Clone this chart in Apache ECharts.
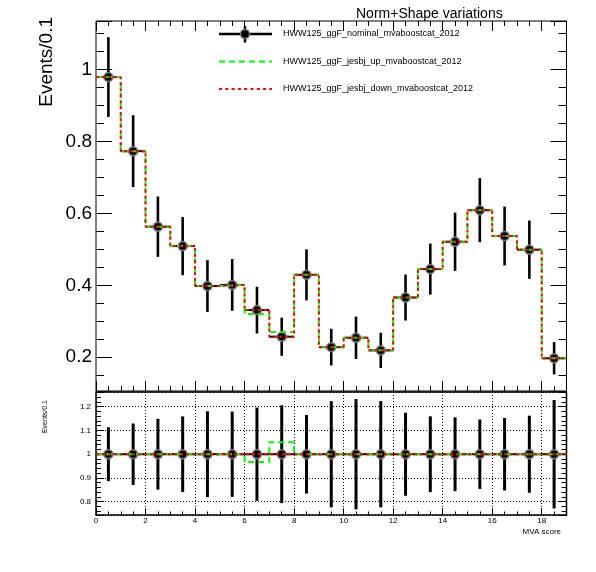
<!DOCTYPE html>
<html>
<head>
    <meta charset="utf-8">
    <title>Norm+Shape variations</title>
    <script src="https://cdn.jsdelivr.net/npm/echarts@6/dist/echarts.min.js"></script>
    <style>
        body { margin: 0; background: #fff; }
    </style>
</head>
<body>
    <div id="main" style="width:596px; height:572px"></div>
    <script type="text/javascript">
        // bins of width 1 on [0,19]
        var binCenters = [0.5, 1.5, 2.5, 3.5, 4.5, 5.5, 6.5, 7.5, 8.5, 9.5, 10.5, 11.5, 12.5, 13.5, 14.5, 15.5, 16.5, 17.5, 18.5];
        var nominal = [0.979, 0.773, 0.563, 0.509, 0.398, 0.401, 0.331, 0.257, 0.429, 0.228, 0.254, 0.219, 0.366, 0.445, 0.521, 0.609, 0.537, 0.499, 0.197];
        var nominalErr = [0.111, 0.100, 0.084, 0.081, 0.072, 0.072, 0.065, 0.053, 0.071, 0.051, 0.059, 0.049, 0.064, 0.071, 0.081, 0.089, 0.082, 0.081, 0.045];
        var jesUp = [0.979, 0.773, 0.563, 0.509, 0.398, 0.401, 0.320, 0.270, 0.429, 0.228, 0.254, 0.219, 0.366, 0.445, 0.521, 0.609, 0.537, 0.499, 0.197];
        var jesDown = [0.979, 0.773, 0.563, 0.509, 0.398, 0.401, 0.331, 0.257, 0.429, 0.228, 0.254, 0.219, 0.366, 0.445, 0.521, 0.609, 0.537, 0.499, 0.197];
        var legendNames = ['HWW125_ggF_nominal_mvaboostcat_2012', 'HWW125_ggF_jesbj_up_mvaboostcat_2012', 'HWW125_ggF_jesbj_down_mvaboostcat_2012'];

        var FONT = "'Liberation Sans', Arial, sans-serif";
        var myChart = echarts.init(document.getElementById('main'));

        // histogram outline: one point per lower bin edge plus the last upper edge
        function stepData(vals) {
            var d = [];
            for (var i = 0; i < vals.length; i++) d.push([binCenters[i] - 0.5, vals[i]]);
            d.push([binCenters[vals.length - 1] + 0.5, vals[vals.length - 1]]);
            return d;
        }
        function ratio(vals) {
            return vals.map(function (v, i) { return v / nominal[i]; });
        }

        var mainPts = binCenters.map(function (x, i) { return [x, nominal[i], nominalErr[i]]; });
        var ratioPts = binCenters.map(function (x, i) { return [x, 1, nominalErr[i] / nominal[i]]; });

        function errRender(width) {
            return function (params, api) {
                var x = api.value(0), y = api.value(1), e = api.value(2);
                var t = api.coord([x, y + e]), b = api.coord([x, y - e]);
                var l = api.coord([x - 0.5, y]), r = api.coord([x + 0.5, y]);
                return {
                    type: 'group',
                    children: [
                        { type: 'line', shape: { x1: t[0], y1: t[1], x2: b[0], y2: b[1] }, style: { stroke: '#000', lineWidth: width } },
                        { type: 'line', shape: { x1: l[0], y1: l[1], x2: r[0], y2: r[1] }, style: { stroke: '#000', lineWidth: 2 } }
                    ]
                };
            };
        }

        function isMult(v, step) {
            return Math.abs(v / step - Math.round(v / step)) < 1e-6;
        }

        function xAx(grid, pos, interval, len, extra) {
            var a = {
                type: 'value', gridIndex: grid, position: pos, min: 0, max: 19, interval: interval,
                axisLine: { show: false, onZero: false },
                axisTick: { show: true, inside: true, length: len, lineStyle: { color: '#000', width: 1 } },
                axisLabel: { show: false },
                splitLine: { show: false }
            };
            return Object.assign(a, extra || {});
        }
        function yAx(grid, pos, min, max, split, len, extra) {
            var a = {
                type: 'value', gridIndex: grid, position: pos, min: min, max: max, splitNumber: split,
                axisLine: { show: false, onZero: false },
                axisTick: { show: true, inside: true, length: len, lineStyle: { color: '#000', width: 1 } },
                axisLabel: { show: false },
                splitLine: { show: false }
            };
            return Object.assign(a, extra || {});
        }

        var MAIN_MIN = 0.106, MAIN_MAX = 1.135;
        var RAT_MIN = 0.744, RAT_MAX = 1.262;

        var option = {
            animation: false,
            backgroundColor: '#fff',
            textStyle: { fontFamily: FONT },
            title: {
                text: 'Norm+Shape variations',
                left: 351, top: 2,
                textStyle: { fontFamily: FONT, fontSize: 14, fontWeight: 'normal', color: '#000' }
            },
            grid: [
                { left: 96, right: 29.5, top: 21, height: 370, show: true, borderColor: '#000', borderWidth: 1, backgroundColor: 'transparent' },
                { left: 96, right: 29.5, top: 392, height: 123, show: true, borderColor: '#000', borderWidth: 1.5, backgroundColor: 'transparent' }
            ],
            xAxis: [
                xAx(0, 'bottom', 2, 10),
                xAx(0, 'bottom', 0.5, 5),
                xAx(0, 'top', 2, 10),
                xAx(0, 'top', 0.5, 5),
                xAx(1, 'bottom', 2, 7, {
                    axisLabel: {
                        show: true, fontSize: 8, color: '#000', margin: 2, fontFamily: FONT,
                        formatter: function (v) { return isMult(v, 2) ? String(v) : ''; }
                    },
                    splitLine: { show: true, lineStyle: { color: '#000', type: [1, 2], width: 1 } }
                }),
                xAx(1, 'bottom', 0.5, 3.5)
            ],
            yAxis: [
                yAx(0, 'left', MAIN_MIN, MAIN_MAX, 5, 16, {
                    axisLabel: {
                        show: true, fontSize: 19, color: '#000', margin: 4, fontFamily: FONT,
                        formatter: function (v) {
                            if (!isMult(v, 0.2)) return '';
                            return Math.abs(v - 1) < 1e-6 ? '1' : v.toFixed(1);
                        }
                    }
                }),
                yAx(0, 'left', MAIN_MIN, MAIN_MAX, 20, 8),
                yAx(0, 'right', MAIN_MIN, MAIN_MAX, 5, 16),
                yAx(0, 'right', MAIN_MIN, MAIN_MAX, 20, 8),
                yAx(1, 'left', RAT_MIN, RAT_MAX, 5, 8, {
                    axisLabel: {
                        show: true, fontSize: 8, color: '#000', margin: 5, fontFamily: FONT,
                        formatter: function (v) {
                            if (!isMult(v, 0.1)) return '';
                            return Math.abs(v - 1) < 1e-6 ? '1' : v.toFixed(1);
                        }
                    },
                    splitLine: { show: true, lineStyle: { color: '#000', type: [1, 2], width: 1 } }
                }),
                yAx(1, 'left', RAT_MIN, RAT_MAX, 25, 5),
                yAx(1, 'right', RAT_MIN, RAT_MAX, 5, 8),
                yAx(1, 'right', RAT_MIN, RAT_MAX, 25, 5)
            ],
            series: [
                // main pad
                {
                    name: 'nominal err', type: 'custom', xAxisIndex: 0, yAxisIndex: 0, z: 2,
                    renderItem: errRender(2.6), data: mainPts, silent: true
                },
                {
                    name: legendNames[0], type: 'scatter', xAxisIndex: 0, yAxisIndex: 0, z: 3,
                    symbol: 'circle', symbolSize: 9,
                    itemStyle: { color: '#000', borderColor: '#777', borderWidth: 1.5, opacity: 1 },
                    data: binCenters.map(function (x, i) { return [x, nominal[i]]; })
                },
                {
                    name: legendNames[1], type: 'line', xAxisIndex: 0, yAxisIndex: 0, z: 4, step: 'end',
                    showSymbol: false, symbol: 'none',
                    lineStyle: { color: '#00ff00', width: 2, type: [6, 4] },
                    data: stepData(jesUp)
                },
                {
                    name: legendNames[2], type: 'line', xAxisIndex: 0, yAxisIndex: 0, z: 5, step: 'end',
                    showSymbol: false, symbol: 'none',
                    lineStyle: { color: '#ff0000', width: 2, type: [3, 3] },
                    data: stepData(jesDown)
                },
                // ratio pad
                {
                    name: 'ratio err', type: 'custom', xAxisIndex: 4, yAxisIndex: 4, z: 2,
                    renderItem: errRender(3), data: ratioPts, silent: true
                },
                {
                    name: 'ratio nominal', type: 'scatter', xAxisIndex: 4, yAxisIndex: 4, z: 3,
                    symbol: 'circle', symbolSize: 9,
                    itemStyle: { color: '#000', borderColor: '#777', borderWidth: 1.5, opacity: 1 },
                    data: binCenters.map(function (x) { return [x, 1]; })
                },
                {
                    name: 'ratio up', type: 'line', xAxisIndex: 4, yAxisIndex: 4, z: 4, step: 'end',
                    showSymbol: false, symbol: 'none',
                    lineStyle: { color: '#00ff00', width: 2, type: [6, 4] },
                    data: stepData(ratio(jesUp))
                },
                {
                    name: 'ratio down', type: 'line', xAxisIndex: 4, yAxisIndex: 4, z: 5, step: 'end',
                    showSymbol: false, symbol: 'none',
                    lineStyle: { color: '#ff0000', width: 2, type: [3, 3] },
                    data: stepData(ratio(jesDown))
                }
            ],
            graphic: [
                // axis titles
                {
                    type: 'text', x: 47, y: 17, rotation: Math.PI / 2,
                    style: { text: 'Events/0.1', font: '19px ' + FONT, fill: '#000', align: 'right', verticalAlign: 'middle' }
                },
                {
                    type: 'text', x: 45, y: 400, rotation: Math.PI / 2,
                    style: { text: 'Events/0.1', font: '7px ' + FONT, fill: '#000', align: 'right', verticalAlign: 'middle' }
                },
                {
                    type: 'text', x: 561, y: 532,
                    style: { text: 'MVA score', font: '8px ' + FONT, fill: '#000', align: 'right', verticalAlign: 'middle' }
                },
                // legend
                { type: 'line', shape: { x1: 219, y1: 34, x2: 272, y2: 34 }, style: { stroke: '#000', lineWidth: 2.5 }, z: 10 },
                { type: 'line', shape: { x1: 245, y1: 26, x2: 245, y2: 42.5 }, style: { stroke: '#000', lineWidth: 2.5 }, z: 10 },
                { type: 'circle', shape: { cx: 245, cy: 34, r: 4.5 }, style: { fill: '#000', stroke: '#777', lineWidth: 1.5 }, z: 11 },
                { type: 'text', x: 283, y: 34, style: { text: legendNames[0], font: '9px ' + FONT, fill: '#000', verticalAlign: 'middle' }, z: 10 },
                { type: 'line', shape: { x1: 219, y1: 61.5, x2: 272, y2: 61.5 }, style: { stroke: '#00ff00', lineWidth: 2, lineDash: [6, 4] }, z: 10 },
                { type: 'text', x: 283, y: 61.5, style: { text: legendNames[1], font: '9px ' + FONT, fill: '#000', verticalAlign: 'middle' }, z: 10 },
                { type: 'line', shape: { x1: 219, y1: 89, x2: 272, y2: 89 }, style: { stroke: '#ff0000', lineWidth: 2, lineDash: [3, 3.3] }, z: 10 },
                { type: 'text', x: 283, y: 89, style: { text: legendNames[2], font: '9px ' + FONT, fill: '#000', verticalAlign: 'middle' }, z: 10 }
            ]
        };

        myChart.setOption(option);
    </script>
</body>
</html>
